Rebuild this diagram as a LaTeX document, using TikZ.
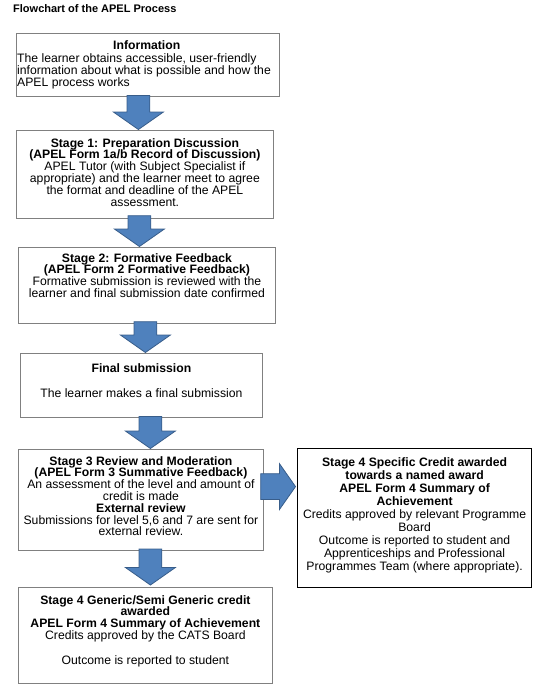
\documentclass[tikz,border=0pt]{standalone}
\usepackage{fontspec}
\setmainfont{Liberation Sans}
\usetikzlibrary{shapes.arrows}
\definecolor{framegray}{HTML}{808080}
\definecolor{arrowfill}{HTML}{4F81BD}
\definecolor{arrowline}{HTML}{385D8A}
\tikzset{
  stepframe/.style={draw=framegray, line width=0.8pt, rectangle, inner sep=0pt, anchor=north west},
  boxtext/.style={inner sep=0pt, anchor=north, align=center, font=\fontsize{12.2}{11.8}\selectfont},
  downarrow/.style={single arrow, draw=arrowline, fill=arrowfill, line width=0.8pt, inner sep=11pt,
    minimum width=49pt, single arrow head extend=13.5pt, single arrow tip angle=110,
    shape border rotate=270, anchor=tip},
  rightarrow/.style={downarrow, inner sep=12.5pt, minimum width=45pt, single arrow head extend=10pt,
    shape border rotate=0}
}
\begin{document}
\begin{tikzpicture}[x=1pt,y=-1pt]
    \useasboundingbox (0,0) rectangle (546,699);
    \node[anchor=base west, inner sep=0pt, font=\fontsize{11}{13}\selectfont\bfseries] (title) at (13,12.5) {Flowchart of the APEL Process};
    % boxes
    \node[stepframe, minimum width=263pt, minimum height=63pt] (info) at (16,33) {};
    \node[stepframe, minimum width=257pt, minimum height=88pt] (stage1) at (16,130) {};
    \node[stepframe, minimum width=257pt, minimum height=76pt] (stage2) at (18,247) {};
    \node[stepframe, minimum width=242pt, minimum height=64pt] (final) at (20,353) {};
    \node[stepframe, minimum width=245pt, minimum height=101pt] (stage3) at (18,449) {};
    \node[stepframe, draw=black, line width=1.2pt, minimum width=234pt, minimum height=139pt] (specific) at (297,448) {};
    \node[stepframe, minimum width=254pt, minimum height=96pt] (generic) at (18,587) {};
    % texts
    \node[boxtext, align=left, anchor=north west] (infotext) at ([xshift=1pt,yshift=-7.5pt]info.north west)
      {\hspace*{96pt}\textbf{Information}\\[1.5pt]
       The learner obtains accessible, user-friendly\\
       information about what is possible and how the\\
       APEL process works};
    \node[boxtext] (stage1text) at ([yshift=-8pt]stage1.north)
      {\textbf{Stage 1: Preparation Discussion}\\
       \textbf{(APEL Form 1a/b Record of Discussion)}\\
       APEL Tutor (with Subject Specialist if\\
       appropriate) and the learner meet to agree\\
       the format and deadline of the APEL\\
       assessment.};
    \node[boxtext] (stage2text) at ([yshift=-6pt]stage2.north)
      {\textbf{Stage 2: Formative Feedback}\\
       \textbf{(APEL Form 2 Formative Feedback)}\\
       Formative submission is reviewed with the\\
       learner and final submission date confirmed};
    \node[boxtext] (finaltext) at ([yshift=-10pt]final.north)
      {\textbf{Final submission}\\[14pt]
       The learner makes a final submission};
    \node[boxtext] (stage3text) at ([yshift=-7pt]stage3.north)
      {\textbf{Stage 3 Review and Moderation}\\
       \textbf{(APEL Form 3 Summative Feedback)}\\
       An assessment of the level and amount of\\
       credit is made\\
       \textbf{External review}\\
       Submissions for level 5,6 and 7 are sent for\\
       external review.};
    \node[boxtext, font=\fontsize{12.2}{13}\selectfont] (specifictext) at ([yshift=-9pt]specific.north)
      {\textbf{Stage 4 Specific Credit awarded}\\
       \textbf{towards a named award}\\
       \textbf{APEL Form 4 Summary of}\\
       \textbf{Achievement}\\
       Credits approved by relevant Programme\\
       Board\\
       Outcome is reported to student and\\
       Apprenticeships and Professional\\
       Programmes Team (where appropriate).};
    \node[boxtext] (generictext) at ([yshift=-8pt]generic.north)
      {\textbf{Stage 4 Generic/Semi Generic credit}\\
       \textbf{awarded}\\
       \textbf{APEL Form 4 Summary of Achievement}\\
       Credits approved by the CATS Board\\[13pt]
       Outcome is reported to student};
    % arrows
    \node[downarrow, minimum height=34pt] (arrow1) at ([xshift=-6.5pt]stage1.north) {};
    \node[downarrow, minimum height=29pt] (arrow2) at ([xshift=-7.5pt]stage2.north) {};
    \node[downarrow, minimum height=30pt] (arrow3) at ([xshift=4pt]final.north) {};
    \node[downarrow, minimum height=32pt] (arrow4) at ([xshift=9.5pt]stage3.north) {};
    \node[downarrow, minimum height=36pt] (arrow5) at ([xshift=5pt,yshift=1.5pt]generic.north) {};
    \node[rightarrow, minimum height=33pt] (arrow6) at ([xshift=-1pt,yshift=31.5pt]specific.west) {};
\end{tikzpicture}
\end{document}
